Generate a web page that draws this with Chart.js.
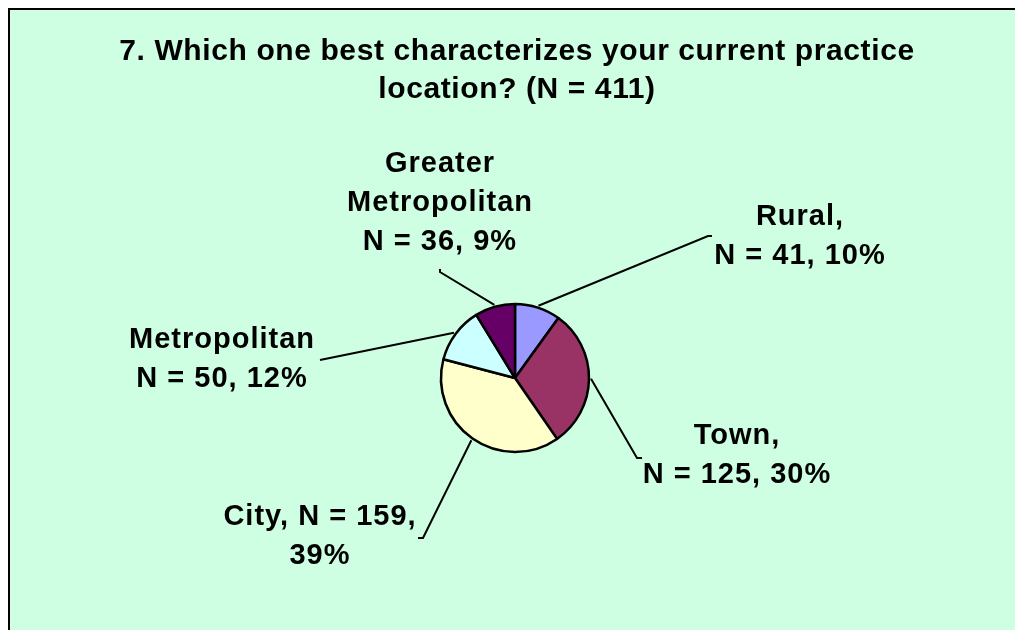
<!DOCTYPE html>
<html lang="en">
<head>
<meta charset="UTF-8" />
<title>Practice location</title>
<script src="https://cdn.jsdelivr.net/npm/chart.js@4.4.1/dist/chart.umd.min.js"></script>
<style>
html,body{margin:0;padding:0;overflow:hidden;background:#fff;width:100%;height:100%}
.frame{
  position:absolute;left:8px;top:8px;right:0;bottom:0;
  border-top:2px solid #000;border-left:2px solid #000;
  background:#CFFFE3;overflow:hidden;
}
#pie{display:block}
</style>
</head>
<body>
<div class="frame"><canvas id="pie" width="1005" height="620"></canvas></div>

<script>
/* ── data ─────────────────────────────────────────────────────── */
const titleLines = ['7. Which one best characterizes your current practice', 'location? (N = 411)'];
const categories = ['Rural', 'Town', 'City', 'Metropolitan', 'Greater Metropolitan'];
const counts = [41, 125, 159, 50, 36];
const labelLines = [
  ['Rural,', 'N = 41, 10%'],
  ['Town,', 'N = 125, 30%'],
  ['City, N = 159,', '39%'],
  ['Metropolitan', 'N = 50, 12%'],
  ['Greater', 'Metropolitan', 'N = 36, 9%']
];
const sliceColors = ['#9999FF', '#993366', '#FFFFCC', '#CCFFFF', '#660066'];

/* ── label placement (canvas px): text centre, first line y, leader elbow, tick end ── */
const labelLayout = [
  {cx: 790, y: 207, ex: 698, ey: 226, tx: 702, ty: 226},
  {cx: 727, y: 426, ex: 627, ey: 448, tx: 632, ty: 448},
  {cx: 310, y: 507, ex: 413, ey: 528, tx: 408, ty: 528},
  {cx: 212, y: 330, ex: 310, ey: 350},
  {cx: 430, y: 154, ex: 430, ey: 262, tx: 430, ty: 259}
];
const LINE_GAP = 39;
const FONT = '"Liberation Sans", Arial, sans-serif';

/* ── title + labels with leader lines ─────────────────────────── */
const calloutPlugin = {
  id: 'callouts',
  afterDraw(chart){
    const ctx = chart.ctx;
    ctx.save();
    ctx.fillStyle = '#000';
    ctx.textAlign = 'center';
    ctx.textBaseline = 'middle';

    ctx.font = 'bold 30px ' + FONT;
    ctx.letterSpacing = '0.6px';
    titleLines.forEach((t, i) => ctx.fillText(t, 507, 42 + i * 38));

    ctx.font = 'bold 29px ' + FONT;
    ctx.letterSpacing = '1px';
    ctx.strokeStyle = '#000';
    ctx.lineWidth = 2;
    chart.getDatasetMeta(0).data.forEach((arc, i) => {
      const {x, y, startAngle, endAngle, outerRadius} =
        arc.getProps(['x', 'y', 'startAngle', 'endAngle', 'outerRadius'], true);
      const mid = (startAngle + endAngle) / 2;
      const L = labelLayout[i];
      ctx.beginPath();
      ctx.moveTo(x + Math.cos(mid) * (outerRadius + 2), y + Math.sin(mid) * (outerRadius + 2));
      ctx.lineTo(L.ex, L.ey);
      if (L.tx !== undefined) ctx.lineTo(L.tx, L.ty);
      ctx.stroke();
      labelLines[i].forEach((t, j) => ctx.fillText(t, L.cx, L.y + j * LINE_GAP));
    });
    ctx.restore();
  }
};

/* ── chart ────────────────────────────────────────────────────── */
new Chart(document.getElementById('pie'), {
  type: 'pie',
  data: {
    labels: categories,
    datasets: [{
      data: counts,
      backgroundColor: sliceColors,
      borderColor: '#000',
      borderWidth: 2.5
    }]
  },
  options: {
    responsive: false,
    animation: false,
    radius: 74,
    layout: {padding: {left: 5, right: 0, top: 116, bottom: 0}},
    plugins: {
      legend: {display: false},
      tooltip: {enabled: false},
      title: {display: false}
    }
  },
  plugins: [calloutPlugin]
});
</script>
</body>
</html>
